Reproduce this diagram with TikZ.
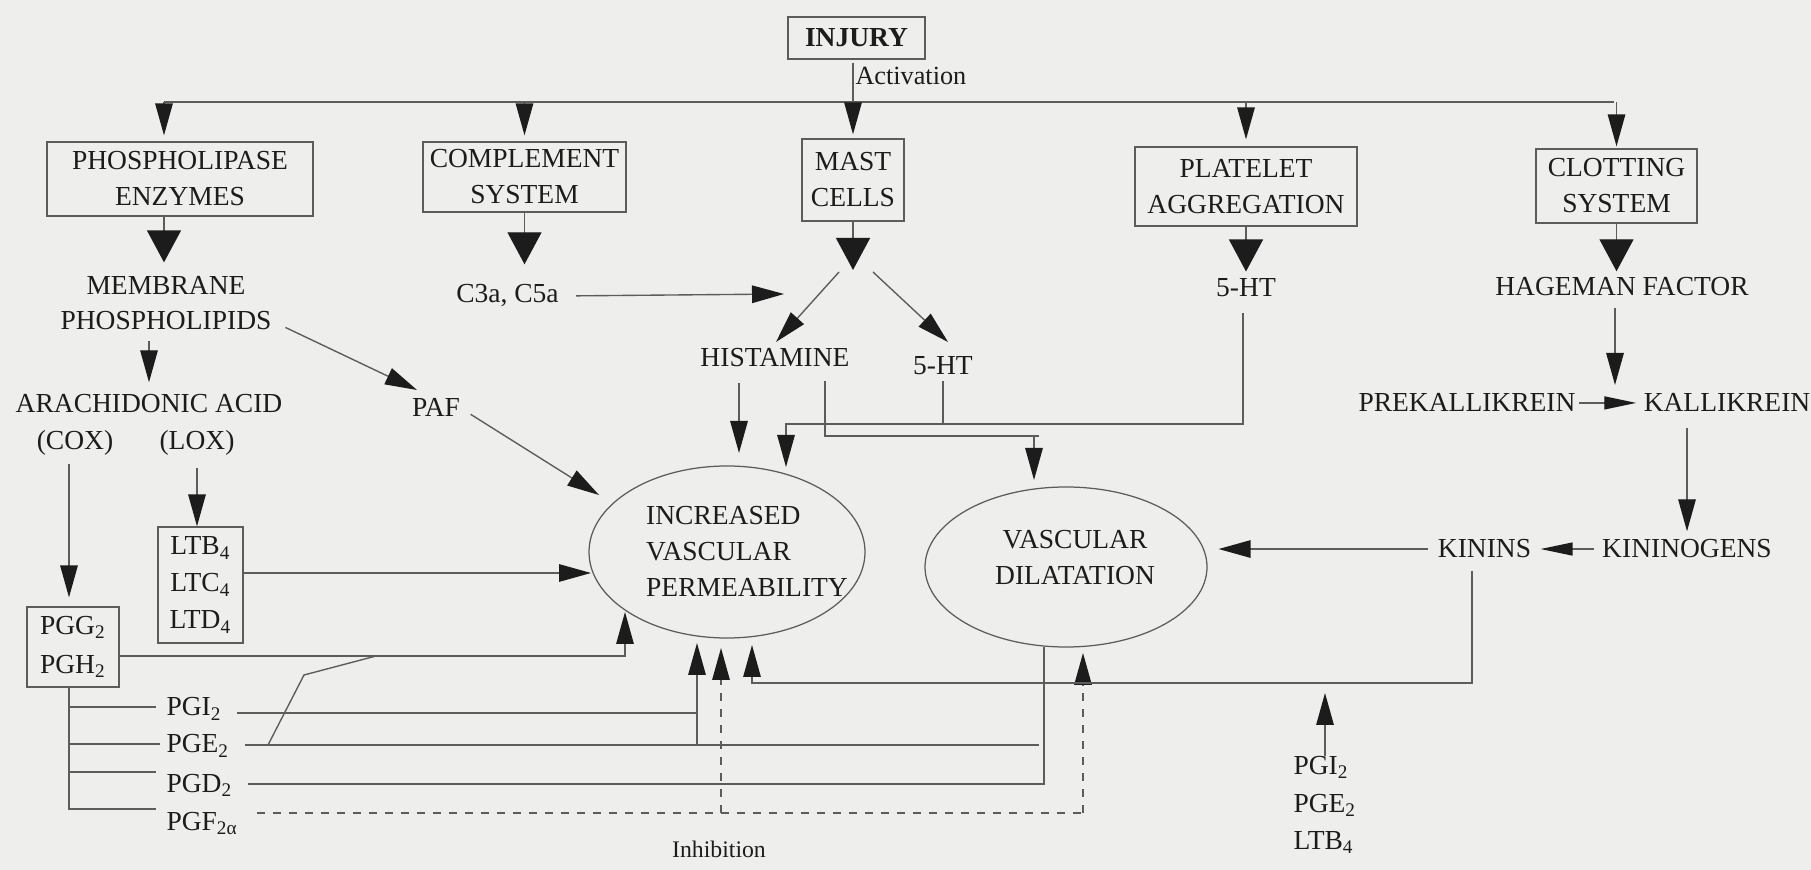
\documentclass[tikz,border=0pt]{standalone}
\usepackage{fontspec}
\setmainfont{Liberation Serif}
\usetikzlibrary{arrows.meta,shapes.geometric,calc}
\definecolor{bgc}{RGB}{238,238,236}
\definecolor{wirec}{RGB}{92,92,92}
\definecolor{ink}{RGB}{28,28,28}
\begin{document}
\begin{tikzpicture}[x=0.4pt,y=-0.4pt,
  every node/.style={text=ink, font=\fontsize{11}{14.4}\selectfont, inner sep=0pt},
  box/.style={draw=wirec, line width=0.5pt, align=center},
  lbl/.style={anchor=base},
  ell/.style={draw=wirec, line width=0.5pt, ellipse},
  wire/.style={draw=wirec, line width=0.55pt},
  arr/.style={wire, -{Triangle[length=12.8pt,width=7pt,color=ink]}},
  barr/.style={wire, -{Triangle[length=12.8pt,width=13.6pt,color=ink]}},
  harr/.style={wire, -{Triangle[length=12.8pt,width=5.2pt,color=ink]}},
  dsh/.style={dash pattern=on 3.2pt off 3.2pt},
]
\fill[bgc] (0,0) rectangle (1811,870);
\useasboundingbox (0,0) rectangle (1811,870);

% ---------- boxes ----------
\node[box, font=\bfseries\fontsize{11}{14.4}\selectfont, minimum width=54.8pt, minimum height=16.8pt] (injury) at (856.5,38) {INJURY};
\node[box, minimum width=106.4pt, minimum height=29.6pt] (phos) at (180,179) {PHOSPHOLIPASE\\ENZYMES};
\node[box, minimum width=81.2pt, minimum height=28pt] (comp) at (524.5,177) {COMPLEMENT\\SYSTEM};
\node[box, minimum width=40.8pt, minimum height=32.8pt] (mast) at (853,180) {MAST\\CELLS};
\node[box, minimum width=88.8pt, minimum height=31.6pt] (plat) at (1246,186.5) {PLATELET\\AGGREGATION};
\node[box, minimum width=64.4pt, minimum height=29.6pt] (clot) at (1616.5,186) {CLOTTING\\SYSTEM};
\node[box, minimum width=34pt, minimum height=46.4pt, font=\fontsize{11}{14.8}\selectfont] (lt) at (200.5,585) {LTB\textsubscript{4}\\LTC\textsubscript{4}\\LTD\textsubscript{4}};
\node[box, minimum width=36.8pt, minimum height=32pt, font=\fontsize{11}{15.6}\selectfont] (pgg) at (73,647) {PGG\textsubscript{2}\\PGH\textsubscript{2}};

% ---------- ellipses ----------
\node[ell, minimum width=110.4pt, minimum height=68.8pt] (perm) at (727,552) {};
\node[align=left] (permtxt) at (747,551) {INCREASED\\VASCULAR\\PERMEABILITY};
\node[ell, minimum width=112.8pt, minimum height=64pt] (dil) at (1066,567) {};
\node[align=center] (diltxt) at (1075,558) {VASCULAR\\DILATATION};

% ---------- free texts ----------
\node[lbl] (mem1) at (166,295) {MEMBRANE};
\node[lbl] (mem2) at (166,330) {PHOSPHOLIPIDS};
\node[lbl] (c3a) at (507.5,303) {C3a, C5a};
\node[lbl] (arach) at (149,413) {ARACHIDONIC ACID};
\node[lbl] (cox) at (75,450) {(COX)};
\node[lbl] (lox) at (197,450) {(LOX)};
\node[lbl] (paf) at (436,417) {PAF};
\node[lbl] (hist) at (775,367) {HISTAMINE};
\node[lbl] (htm) at (943,375) {5-HT};
\node[lbl] (htp) at (1246,297) {5-HT};
\node[lbl] (hag) at (1622,296) {HAGEMAN FACTOR};
\node[lbl] (prek) at (1467,412) {PREKALLIKREIN};
\node[lbl] (kall) at (1727,412) {KALLIKREIN};
\node[lbl] (kinog) at (1687,558) {KININOGENS};
\node[lbl] (kinins) at (1484.5,558) {KININS};
\node[anchor=base west] (pgi) at (166,716) {PGI\textsubscript{2}};
\node[anchor=base west] (pge) at (166,753) {PGE\textsubscript{2}};
\node[anchor=base west] (pgd) at (166,792) {PGD\textsubscript{2}};
\node[anchor=base west] (pgf) at (166,830) {PGF\textsubscript{2α}};
\node[anchor=north west, align=left, font=\fontsize{11}{15}\selectfont] (rgrp) at (1293,756) {PGI\textsubscript{2}\\PGE\textsubscript{2}\\LTB\textsubscript{4}};
\node[anchor=base west, font=\fontsize{10.5}{12}\selectfont] (act) at (855,85) {Activation};
\node[anchor=base, font=\fontsize{9.5}{12}\selectfont] (inh) at (719,857) {Inhibition};

% ---------- coordinates ----------
\coordinate (busL) at (164,102);
\coordinate (busR) at (1614,102);
\coordinate (split) at (853,270);
\coordinate (splitL) at (839,272);
\coordinate (splitR) at (873,272);
\coordinate (histTip) at (776,342);
\coordinate (htmTip) at (948,342);
\coordinate (c3aTip) at (784,294);
\coordinate (pafTip) at (417,390);
\coordinate (permP) at (599,495);
\coordinate (ltTip) at (591,573);
\coordinate (pggJ) at (625,656);
\coordinate (permA) at (625,612);
\coordinate (trunk) at (69,809);
\coordinate (bI) at (156,707);
\coordinate (bE) at (160,744);
\coordinate (bD) at (156,772);
\coordinate (bF) at (156,809);
\coordinate (pIs) at (237,713);
\coordinate (pIe) at (697,713);
\coordinate (pEs) at (245,745);
\coordinate (pEe) at (1039,745);
\coordinate (jE) at (697,745);
\coordinate (permB) at (697,643);
\coordinate (kink1) at (268,745);
\coordinate (kink2) at (304,675);
\coordinate (kink3) at (376,656);
\coordinate (pDs) at (248,784);
\coordinate (pDc) at (1044,784);
\coordinate (dilB) at (1044,647);
\coordinate (pFs) at (257,813);
\coordinate (pFe) at (1083,813);
\coordinate (jF) at (721,813);
\coordinate (permC) at (721,648);
\coordinate (dilC) at (1083,653);
\coordinate (kinJ) at (1472,683);
\coordinate (kinL) at (752,683);
\coordinate (permK) at (752,645);
\coordinate (rgTip) at (1325,693);
\coordinate (hA) at (739,453);
\coordinate (hJ1) at (825,436);
\coordinate (hJ2) at (1039,436);
\coordinate (dilA) at (1034,480);
\coordinate (sJ) at (1243,424);
\coordinate (sL) at (786,424);
\coordinate (permH) at (786,467);
\coordinate (hagTip) at (1615,385);

% ---------- top ----------
\draw[wire] (busL) -- (busR);
\draw[arr, shorten >=2.4pt] (busL) -- (busL |- phos.north);
\draw[arr, shorten >=2.4pt] (comp.north |- busL) -- (comp.north);
\draw[arr, shorten >=2.8pt] (plat.north |- busL) -- (plat.north);
\draw[arr, shorten >=0.8pt] (clot.north |- busL) -- (clot.north);
\draw[arr, shorten <=1.2pt, shorten >=1.6pt] (injury.south -| mast.north) -- (mast.north);

\draw[barr, shorten >=5.6pt] (busL |- phos.south) -- (busL |- mem1.north);
\draw[barr, shorten >=8pt] (comp.south) -- (comp.south |- c3a.north);
\draw[barr] (mast.south) -- (split);
\draw[barr, shorten >=2.8pt] (plat.south) -- (plat.south |- htp.north);
\draw[barr, shorten >=2.4pt] (clot.south) -- (clot.south |- hag.north);

\draw[arr] (splitL) -- (histTip);
\draw[arr] (splitR) -- (htmTip);
\draw[arr, shorten <=6.8pt] (c3a.east) -- (c3aTip);

% ---------- left ----------
\draw[arr, shorten <=4pt, shorten >=4.8pt] (mem2.south -| arach.north) -- (arach.north);
\draw[arr, shorten <=6pt] (mem2.east) -- (pafTip);
\draw[arr, shorten <=4.8pt] (paf.east) -- (permP);
\draw[arr, shorten <=3pt, shorten >=3.6pt] (cox.south -| trunk) -- (trunk |- pgg.north);
\draw[arr, shorten <=4.6pt] (lox.south) -- (lox.south |- lt.north);
\draw[arr] (lt.east |- ltTip) -- (ltTip);
\draw[arr] (pgg.east |- pggJ) -- (pggJ) -- (permA);

\draw[wire] (trunk |- pgg.south) -- (trunk) -- (bF);
\draw[wire] (trunk |- bI) -- (bI);
\draw[wire] (trunk |- bE) -- (bE);
\draw[wire] (trunk |- bD) -- (bD);

\draw[wire] (pIs) -- (pIe);
\draw[wire] (pEs) -- (pEe);
\draw[arr] (jE) -- (permB);
\draw[wire] (kink1) -- (kink2) -- (kink3);
\draw[wire] (pDs) -- (pDc) -- (dilB);
\draw[wire, dsh] (pFs) -- (pFe);
\draw[arr, dsh] (jF) -- (permC);
\draw[arr, dsh] (pFe) -- (dilC);

% ---------- middle ----------
\draw[arr, shorten <=6pt] (hist.south -| hA) -- (hA);
\draw[wire, shorten <=5.2pt] (hist.south -| hJ1) -- (hJ1) -- (hJ2);
\draw[arr] (hJ2 -| dilA) -- (dilA);
\draw[arr, shorten <=6pt] (htp.south -| sJ) -- (sJ) -- (sL) -- (permH);
\draw[wire, shorten <=2pt] (htm.south) -- (htm.south |- sJ);

% ---------- right ----------
\draw[arr, shorten <=4.4pt] (hag.south -| hagTip) -- (hagTip);
\draw[harr, shorten <=1.2pt, shorten >=2.8pt] (prek.east) -- (kall.west);
\draw[arr, shorten <=6.4pt, shorten >=3.2pt] (kall.south -| kinog.north) -- (kinog.north);
\draw[harr, shorten <=3.2pt, shorten >=3.6pt] (kinog.west) -- (kinins.east);
\draw[arr, shorten <=3.6pt, shorten >=4.4pt] (kinins.west) -- (dil.east |- kinins.west);
\draw[arr, shorten <=4.8pt] (kinins.south -| kinJ) -- (kinJ) -- (kinL) -- (permK);
\draw[arr] (rgrp.north -| rgTip) -- (rgTip);
\end{tikzpicture}
\end{document}
